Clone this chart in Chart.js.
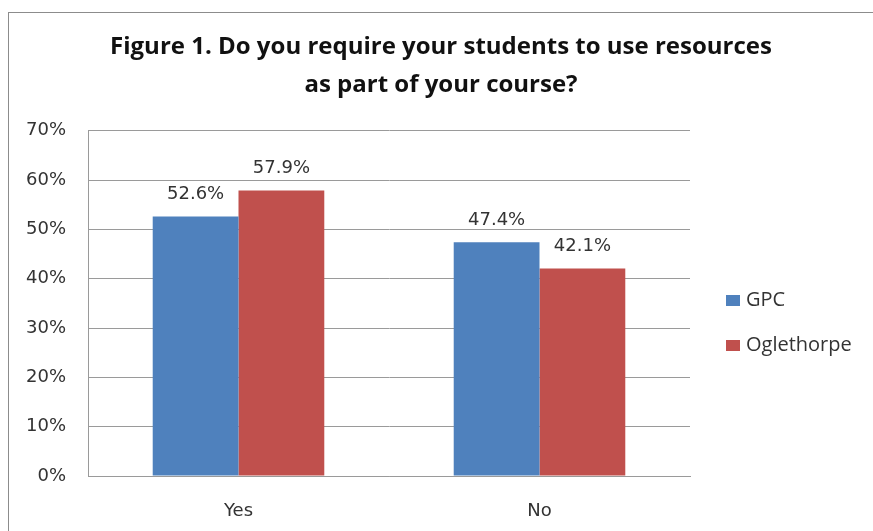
<!DOCTYPE html>
<html>
<head>
<meta charset="utf-8">
<script src="https://cdn.jsdelivr.net/npm/chart.js@4.4.1/dist/chart.umd.min.js"></script>
<style>
    html, body { margin: 0; padding: 0; background: #fff; overflow: hidden; }
    #frame {
        position: absolute;
        left: 8px;
        top: 12px;
        width: 865px;
        height: 519px;
        border-left: 1px solid #8c8c8c;
        border-top: 1px solid #8c8c8c;
    }
    #chart { display: block; }
</style>
</head>
<body>
<div id="frame"><canvas id="chart" width="864" height="518"></canvas></div>
<script>
// values
const categories = ['Yes', 'No'];
const seriesNames = ['GPC', 'Oglethorpe'];
const gpcValues = [52.6, 47.4];
const oglethorpeValues = [57.9, 42.1];
const yTicks = [0, 10, 20, 30, 40, 50, 60, 70];
const titleLines = ['Figure 1. Do you require your students to use resources', 'as part of your course?'];

const seriesColors = ['#4f81bd', '#c0504d'];
const gridColor = '#9a9a9a';
const textColor = '#333';

// value labels above each bar
const barLabels = {
    id: 'barLabels',
    afterDatasetsDraw(chart) {
        const ctx = chart.ctx;
        ctx.save();
        ctx.font = '18px "DejaVu Sans"';
        ctx.fillStyle = textColor;
        ctx.textAlign = 'center';
        ctx.textBaseline = 'middle';
        chart.data.datasets.forEach((ds, i) => {
            chart.getDatasetMeta(i).data.forEach((bar, j) => {
                ctx.fillText(ds.data[j].toFixed(1) + '%', bar.x, bar.y - 22);
            });
        });
        ctx.restore();
    }
};

// legend as a layout box on the right, so the title stays centred on the whole canvas
const sideLegend = {
    id: 'sideLegend',
    afterInit(chart) {
        const box = {
            position: 'right',
            weight: 0,
            fullSize: false,
            options: {},
            width: 0, height: 0, left: 0, top: 0, right: 0, bottom: 0,
            isHorizontal() { return false; },
            update(maxWidth, maxHeight) {
                this.width = 183;
                this.height = maxHeight;
            },
            draw() {
                const ctx = chart.ctx;
                ctx.save();
                ctx.font = '20px "Open Sans"';
                ctx.textBaseline = 'middle';
                ctx.textAlign = 'left';
                chart.data.datasets.forEach((ds, i) => {
                    const y = 287 + i * 45;
                    ctx.fillStyle = ds.backgroundColor;
                    ctx.fillRect(this.left + 36, y - 5, 14, 11);
                    ctx.fillStyle = textColor;
                    ctx.fillText(ds.label, this.left + 56, y);
                });
                ctx.restore();
            }
        };
        Chart.layouts.addBox(chart, box);
    }
};

new Chart(document.getElementById('chart'), {
    type: 'bar',
    data: {
        labels: categories,
        datasets: [
            { label: seriesNames[0], data: gpcValues, backgroundColor: seriesColors[0] },
            { label: seriesNames[1], data: oglethorpeValues, backgroundColor: seriesColors[1] }
        ]
    },
    options: {
        responsive: false,
        animation: false,
        events: [],
        datasets: {
            bar: { categoryPercentage: 0.57, barPercentage: 1.0 }
        },
        plugins: {
            legend: { display: false },
            tooltip: { enabled: false },
            title: {
                display: true,
                text: titleLines,
                color: '#111',
                font: { family: '"Open Sans"', size: 24, weight: 'bold', lineHeight: 1.6 },
                padding: { top: 15, bottom: 26 }
            }
        },
        scales: {
            x: {
                grid: { display: false },
                border: { display: true, color: gridColor },
                ticks: {
                    color: textColor,
                    padding: 17,
                    font: { family: '"DejaVu Sans"', size: 18 }
                },
                afterFit(scale) { scale.height = 55; }
            },
            y: {
                min: 0,
                max: 70,
                afterBuildTicks(scale) { scale.ticks = yTicks.map(v => ({ value: v })); },
                grid: { color: gridColor, drawTicks: false },
                border: { display: true, color: gridColor },
                ticks: {
                    color: textColor,
                    padding: 22,
                    font: { family: '"DejaVu Sans"', size: 18 },
                    callback: v => v + '%'
                },
                afterFit(scale) { scale.width = 79; }
            }
        }
    },
    plugins: [barLabels, sideLegend]
});
</script>
</body>
</html>
